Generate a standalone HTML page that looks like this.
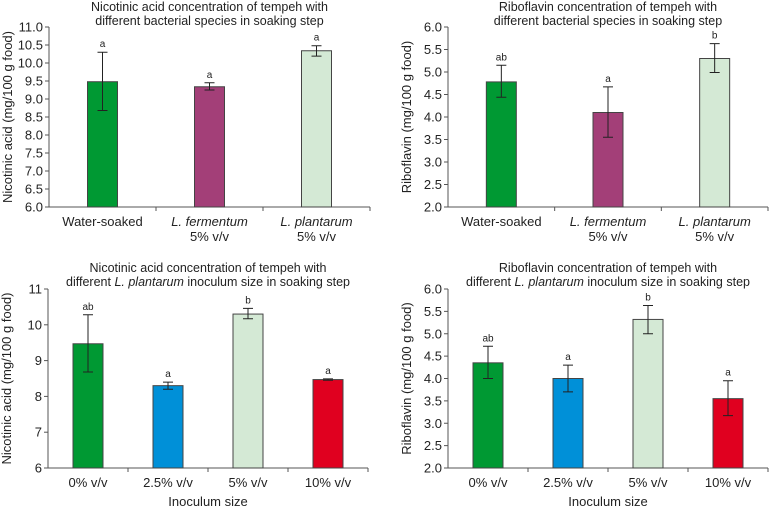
<!DOCTYPE html>
<html><head><meta charset="utf-8"><style>
body{margin:0;background:#fff;width:770px;height:506px;overflow:hidden}
svg{display:block;font-family:"Liberation Sans",Arial,sans-serif}
</style></head><body>
<svg id="c" width="770" height="506" viewBox="0 0 770 506"></svg>
<script>
const cats1=["Water-soaked","L. fermentum|5% v/v","L. plantarum|5% v/v"];
const vals1=[9.48,9.34,10.34];
const lo1=[8.68,9.25,10.19];
const hi1=[10.3,9.45,10.48];
const let1=["a","a","a"];
const ticks1=["6.0","6.5","7.0","7.5","8.0","8.5","9.0","9.5","10.0","10.5","11.0"];

const cats2=["Water-soaked","L. fermentum|5% v/v","L. plantarum|5% v/v"];
const vals2=[4.78,4.1,5.3];
const lo2=[4.44,3.55,4.99];
const hi2=[5.15,4.67,5.63];
const let2=["ab","a","b"];
const ticks2=["2.0","2.5","3.0","3.5","4.0","4.5","5.0","5.5","6.0"];

const cats3=["0% v/v","2.5% v/v","5% v/v","10% v/v"];
const vals3=[9.47,8.3,10.3,8.47];
const lo3=[8.68,8.2,10.17,8.45];
const hi3=[10.28,8.4,10.46,8.49];
const let3=["ab","a","b","a"];
const ticks3=["6","7","8","9","10","11"];

const cats4=["0% v/v","2.5% v/v","5% v/v","10% v/v"];
const vals4=[4.35,4.0,5.32,3.55];
const lo4=[4.0,3.7,5.0,3.17];
const hi4=[4.72,4.3,5.63,3.95];
const let4=["ab","a","b","a"];
const ticks4=["2.0","2.5","3.0","3.5","4.0","4.5","5.0","5.5","6.0"];

const NS="http://www.w3.org/2000/svg";
const svg=document.getElementById('c');
function mk(tag,attrs,parent){const e=document.createElementNS(NS,tag);for(const k in attrs)e.setAttribute(k,attrs[k]);(parent||svg).appendChild(e);return e;}
const colors3=["#009933","#a33f78","#d4e9d5"];
const colors4=["#009933","#0090d8","#d4e9d5","#e0001f"];

function chart(o){
  const g=mk('g',{});
  
  
  const tmin=parseFloat(o.ticks[0]),tmax=parseFloat(o.ticks[o.ticks.length-1]);
  const y=v=>o.y1-(v-tmin)/(tmax-tmin)*(o.y1-o.y0);
  const n=o.cats.length,cw=(o.x1-o.x0)/n;
  const xc=i=>o.x0+cw*(i+0.5);
  o.title.forEach((ln,i)=>{const t=mk('text',{x:(o.x0+o.x1)/2,y:o.ty+i*14,'text-anchor':'middle','font-size':12.5,fill:'#222'},g);t.innerHTML=ln;
    });
  const ya=mk('line',{x1:o.x0,x2:o.x0,y1:o.y0,y2:o.y1,stroke:'#555','stroke-width':1},g);
  
  o.ticks.forEach(tk=>{const yy=y(parseFloat(tk));mk('line',{x1:o.x0-4,x2:o.x0,y1:yy,y2:yy,stroke:'#555'},g);
    const t=mk('text',{x:o.x0-6,y:yy+4.5,'text-anchor':'end','font-size':13,fill:'#222'},g);t.textContent=tk;
    });
  const xa=mk('line',{x1:o.x0,x2:o.x1,y1:o.y1,y2:o.y1,stroke:'#555'},g);
  
  for(let i=1;i<=n;i++){const xx=o.x0+cw*i;mk('line',{x1:xx,x2:xx,y1:o.y1,y2:o.y1+4,stroke:'#555'},g);}
  const yt=mk('text',{transform:`translate(${o.x0-37},${(o.y0+o.y1)/2}) rotate(-90)`,'text-anchor':'middle','font-size':13,fill:'#222'},g);
  yt.textContent=o.ylabel;
  o.vals.forEach((v,i)=>{
    const b=mk('rect',{x:xc(i)-15,y:y(v),width:30,height:o.y1-y(v),fill:o.colors[i],stroke:'#444','stroke-width':1},g);
    
    const cx=xc(i),yl=y(o.lo[i]),yh=y(o.hi[i]);
    const eb=mk('path',{d:`M${cx},${yl}V${yh}M${cx-5},${yl}H${cx+5}M${cx-5},${yh}H${cx+5}`,stroke:'#222','stroke-width':1,fill:'none'},g);
    
    const lt=mk('text',{x:cx,y:yh-5,'text-anchor':'middle','font-size':10,fill:'#222'},g);lt.textContent=o.letters[i];
    
    o.cats[i].split('|').forEach((ln,j)=>{
      const t=mk('text',{x:cx,y:o.y1+19+j*15,'text-anchor':'middle','font-size':13,fill:'#222'},g);
      if(ln.startsWith('L. ')){t.setAttribute('font-style','italic');}
      t.textContent=ln;});
  });
  if(o.xlabel){const t=mk('text',{x:(o.x0+o.x1)/2,y:o.y1+38,'text-anchor':'middle','font-size':13,fill:'#222'},g);t.textContent=o.xlabel;
    }
}
chart({name:'nicotinic-species-chart',x0:49,x1:370,y0:27,y1:207,ty:11,title:["Nicotinic acid concentration of tempeh with","different bacterial species in soaking step"],
  ticks:ticks1,cats:cats1,vals:vals1,lo:lo1,hi:hi1,letters:let1,colors:colors3,ylabel:"Nicotinic acid (mg/100 g food)"});
chart({name:'riboflavin-species-chart',x0:448,x1:768,y0:27,y1:207,ty:11,title:["Riboflavin concentration of tempeh with","different bacterial species in soaking step"],
  ticks:ticks2,cats:cats2,vals:vals2,lo:lo2,hi:hi2,letters:let2,colors:colors3,ylabel:"Riboflavin (mg/100 g food)"});
chart({name:'nicotinic-inoculum-chart',x0:48,x1:368,y0:289,y1:468,ty:272,title:["Nicotinic acid concentration of tempeh with","different <tspan font-style='italic'>L. plantarum</tspan> inoculum size in soaking step"],
  ticks:ticks3,cats:cats3,vals:vals3,lo:lo3,hi:hi3,letters:let3,colors:colors4,ylabel:"Nicotinic acid (mg/100 g food)",xlabel:"Inoculum size"});
chart({name:'riboflavin-inoculum-chart',x0:448,x1:768,y0:289,y1:468,ty:272,title:["Riboflavin concentration of tempeh with","different <tspan font-style='italic'>L. plantarum</tspan> inoculum size in soaking step"],
  ticks:ticks4,cats:cats4,vals:vals4,lo:lo4,hi:hi4,letters:let4,colors:colors4,ylabel:"Riboflavin (mg/100 g food)",xlabel:"Inoculum size"});
</script>
</body></html>
